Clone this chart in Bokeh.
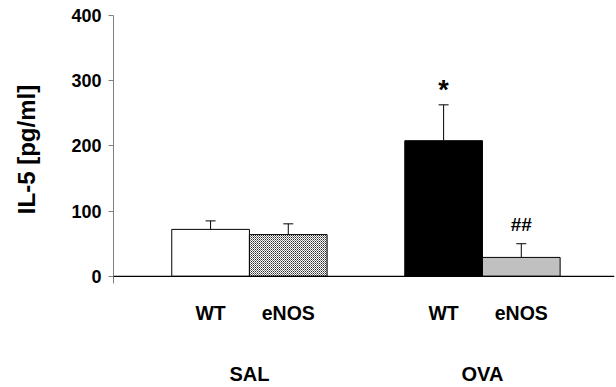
from bokeh.plotting import figure
from bokeh.models import (ColumnDataSource, Range1d, LinearAxis, FixedTicker,
                          Span, Whisker, TeeHead)
from bokeh.core.properties import value
from bokeh.embed import file_html
from bokeh.resources import INLINE

# ---- data ----
groups = ["SAL", "OVA"]
genotypes = ["WT", "eNOS"]
means = [72, 64, 208, 29]          # IL-5 [pg/ml]
errors = [13, 16.5, 55, 21]
marks = ["", "", "*", "##"]
y_ticks = [0, 100, 200, 300, 400]

FONT = "Liberation Sans"

# bar positions: two bars per group, one empty slot between groups
xs, labels = [], []
for gi, g in enumerate(groups):
    for ji, gen in enumerate(genotypes):
        xs.append(gi * 3 + ji + 1)
        labels.append(gen)
group_x = [gi * 3 + 1.5 for gi in range(len(groups))]

fills = ["white", "white", "black", "#c0c0c0"]
hatches = [" ", "diagonal_cross", " ", " "]
mark_gap = [0, 0, 22, 29]
mark_size = ["19px", "19px", "27px", "19px"]

src = ColumnDataSource(dict(
    x=xs, top=means, upper=[m + e for m, e in zip(means, errors)],
    fill=fills, hatch=hatches, mark=marks, msize=mark_size,
    mark_y=[m + e + g for m, e, g in zip(means, errors, mark_gap)],
))

p = figure(width=616, height=387, output_backend="svg", toolbar_location=None,
           x_range=Range1d(-0.25, 6.2), y_range=Range1d(-11, 400),
           min_border_left=113, min_border_right=2, min_border_top=15,
           min_border_bottom=104, x_axis_type=None, y_axis_type=None)
p.outline_line_color = None
p.xgrid.visible = False
p.ygrid.visible = False

# y axis
yax = LinearAxis(ticker=FixedTicker(ticks=y_ticks))
yax.axis_line_color = "#808080"
yax.major_tick_line_color = "#808080"
yax.major_tick_out = 5
yax.major_tick_in = 0
yax.minor_tick_line_color = None
yax.major_label_text_font = FONT
yax.major_label_text_font_style = "bold"
yax.major_label_text_font_size = "18px"
yax.major_label_text_color = "black"
yax.major_label_standoff = 7
yax.axis_label = "IL-5 [pg/ml]"
yax.axis_label_text_font = FONT
yax.axis_label_text_font_style = "bold"
yax.axis_label_text_font_size = "24px"
yax.axis_label_text_color = "black"
yax.axis_label_standoff = 28
p.add_layout(yax, "left")

# x axis: genotype labels and group labels
xax1 = LinearAxis(ticker=FixedTicker(ticks=xs),
                  major_label_overrides={x: l for x, l in zip(xs, labels)})
xax2 = LinearAxis(ticker=FixedTicker(ticks=group_x),
                  major_label_overrides={x: g for x, g in zip(group_x, groups)})
for ax, size, standoff in ((xax1, "19.5px", 18), (xax2, "20px", 36)):
    ax.axis_line_color = None
    ax.major_tick_line_color = None
    ax.minor_tick_line_color = None
    ax.major_tick_out = 0
    ax.major_tick_in = 0
    ax.major_label_text_font = FONT
    ax.major_label_text_font_style = "bold"
    ax.major_label_text_font_size = size
    ax.major_label_text_color = "black"
    ax.major_label_standoff = standoff
p.add_layout(xax1, "below")
p.add_layout(xax2, "below")

# bars
p.vbar(x="x", top="top", bottom=0, width=1.0, source=src,
       fill_color="fill", line_color="black", line_width=1,
       hatch_pattern="hatch", hatch_color="black", hatch_scale=2,
       hatch_weight=0.6)

# error bars (upper only)
p.add_layout(Whisker(source=src, base="x", lower="top", upper="upper",
                     line_color="black", line_width=1,
                     upper_head=TeeHead(size=10, line_color="black", line_width=1),
                     lower_head=None))

# baseline
p.add_layout(Span(location=0, dimension="width", line_color="black",
                  line_width=1.3))

# significance marks
p.text(x="x", y="mark_y", text="mark", source=src,
       text_font=value(FONT), text_font_style="bold", text_font_size="msize",
       text_align="center", text_baseline="alphabetic", text_color="black")

open("out.html", "w").write(file_html(p, INLINE))
